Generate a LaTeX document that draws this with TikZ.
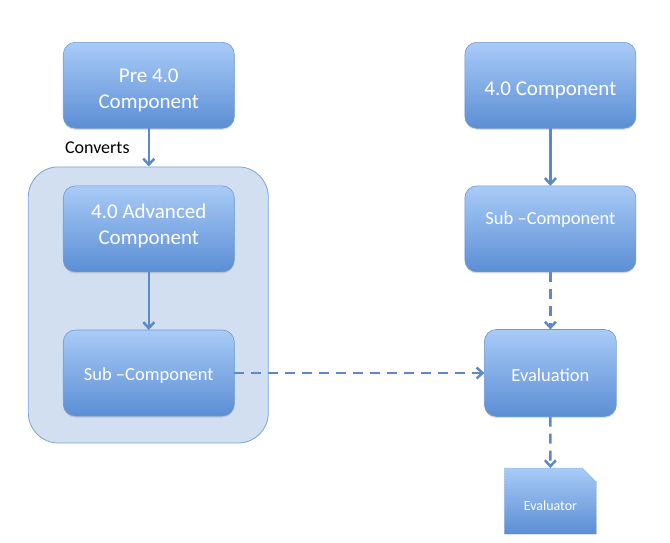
\documentclass[tikz,border=0pt]{standalone}
\usepackage{fontspec}
\setmainfont{Carlito}
\usetikzlibrary{matrix,fit,backgrounds,shadows,shapes.misc,arrows.meta}
\definecolor{boxtop}{HTML}{A9CBF7}
\definecolor{boxbot}{HTML}{5B8ED5}
\definecolor{boxline}{HTML}{6E9AD3}
\definecolor{grpfill}{HTML}{D1DFF0}
\definecolor{grpline}{HTML}{7EA4D5}
\definecolor{flowcol}{HTML}{5F89C4}
\newcommand{\Sub}{Sub –Component}
\newcommand{\twolines}[2]{\begin{tabular}[t]{@{}c@{}}#1\\#2\end{tabular}}

\begin{document}
\begin{tikzpicture}[ampersand replacement=\&,
  comp/.style={rectangle, rounded corners=12pt, draw=boxline, line width=0.6pt,
    top color=boxtop, bottom color=boxbot, text=white,
    minimum width=171pt, minimum height=86pt, inner sep=0pt, outer sep=0pt,
    text height=20pt, text depth=0pt,
    font=\fontsize{21}{25.6}\selectfont,
    drop shadow={shadow xshift=0pt, shadow yshift=-1.5pt, opacity=0.25}},
  subcomp/.style={comp, text height=15pt, font=\fontsize{18.5}{22}\selectfont},
  evalbox/.style={subcomp, text height=17pt, minimum width=132pt, minimum height=87pt},
  evaldoc/.style={chamfered rectangle, chamfered rectangle corners=north east,
    chamfered rectangle xsep=7pt, chamfered rectangle ysep=7pt,
    draw=boxline, densely dotted, line width=0.6pt,
    top color=boxtop, bottom color=boxbot, text=white,
    minimum width=92pt, minimum height=66pt, inner sep=0pt, outer sep=0pt,
    text height=18pt, text depth=0pt,
    font=\fontsize{14}{16}\selectfont},
  group/.style={rectangle, rounded corners=30pt, draw=grpline, fill=grpfill,
    line width=0.8pt, inner sep=0pt},
  flow/.style={draw=flowcol, line width=2.5pt, -{Straight Barb[length=6pt,width=11pt]}},
  dashflow/.style={flow, dash pattern=on 10pt off 7pt}]

\useasboundingbox (0pt,0pt) rectangle (670pt,-543pt);

\matrix (m) at (63pt,-42pt) [matrix of nodes, row sep=57pt, column sep=230pt,
  nodes={anchor=center}, inner sep=0pt, outer sep=0pt, anchor=north west]
{ |[comp, text height=10pt, text depth=15.6pt]| \twolines{Pre 4.0}{Component} \& |[comp]| 4.0 Component \\
  |[comp, text height=0pt, text depth=20pt]| \twolines{4.0 Advanced}{Component} \& |[subcomp, text height=0pt, text depth=8pt]| \Sub \\
  |[subcomp]| \Sub \& |[evalbox]| Evaluation \\[-6pt]
  \& |[evaldoc]| Evaluator \\
} ;

\begin{scope}[on background layer]
\node (grp) [group, fit={([xshift=-35pt,yshift=19pt]m-2-1.north west)
  ([xshift=34pt,yshift=-27pt]m-3-1.south east)}] {};
\end{scope}

\path

(m-1-1)
edge [flow]
node [left=18pt, inner sep=0pt, text=black, font=\fontsize{18}{21}\selectfont] {Converts}
(m-1-1 |- grp.north)

(m-2-1)
edge [flow]
(m-3-1)

(m-1-2)
edge [flow]
(m-2-2)

(m-2-2)
edge [dashflow]
(m-3-2)

(m-3-1)
edge [dashflow]
(m-3-2)

(m-3-2)
edge [dashflow]
(m-4-2)

;

\end{tikzpicture}
\end{document}
